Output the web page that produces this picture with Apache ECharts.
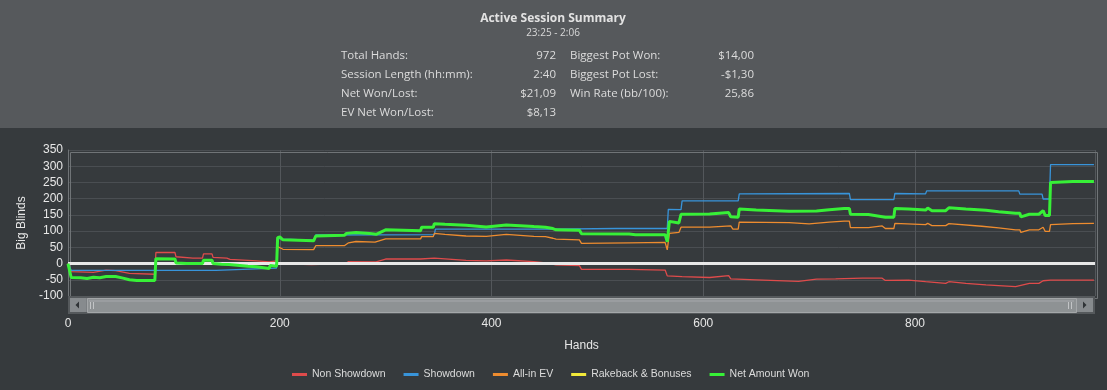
<!DOCTYPE html>
<html>
<head>
<meta charset="utf-8">
<script src="https://cdn.jsdelivr.net/npm/echarts@6/dist/echarts.min.js"></script>
<style>
html,body{margin:0;padding:0;background:#363a3d;}
#chart{width:1107px;height:390px;}
</style>
</head>
<body>
<div id="chart"></div>
<script>
// ---- data ----
const seriesNames = ['Non Showdown', 'Showdown', 'All-in EV', 'Rakeback & Bonuses', 'Net Amount Won'];
const xTicks = [0, 200, 400, 600, 800];
const yTicks = [-100, -50, 0, 50, 100, 150, 200, 250, 300, 350];

const nonShowdown = [[0,0],[3,-25],[24,-27],[36,-20],[45,-22],[58,-30],[82,-33],[83,34],[101,34],[102,21],[118,17],[127,17],[128,30],[136,30],[137,19],[150,17],[153,13],[170,10],[178,8],[179,6],[190,5],[191,8],[197,8],[198,0],[230,-3],[262,0],[265,6],[291,5],[300,14],[333,14],[334,18],[346,17],[376,10],[395,8],[414,11],[440,6],[451,2],[461,-4],[483,-6],[485,-18],[530,-18],[564,-20],[566,-38],[580,-40],[606,-43],[607,-37],[624,-37],[626,-47],[650,-50],[690,-55],[707,-48],[725,-47],[750,-45],[769,-45],[772,-52],[794,-51],[810,-56],[829,-61],[832,-56],[848,-61],[867,-66],[895,-71],[908,-61],[917,-61],[921,-53],[928,-51],[969,-51]];

const showdown = [[0,0],[3,-21],[140,-21],[141,-17],[190,-15],[197,-14],[198,78],[203,75],[232,72],[234,88],[346,89],[347,106],[458,106],[518,108],[566,108],[567,167],[579,166],[580,193],[633,193],[634,215],[738,216],[739,197],[780,197],[781,216],[810,215],[811,224],[898,224],[899,214],[920,214],[921,199],[927,199],[928,305],[969,305]];

const allInEV = [[0,0],[3,-43],[12,-44],[18,-46],[24,-42],[30,-44],[36,-40],[45,-40],[52,-45],[58,-50],[65,-52],[82,-52],[83,15],[101,14],[102,2],[112,0],[127,0],[128,10],[136,10],[137,0],[145,-2],[152,-3],[153,-6],[170,-8],[178,-10],[179,-14],[190,-15],[191,-6],[197,-8],[198,52],[203,44],[232,43],[234,55],[261,55],[265,64],[272,68],[290,66],[291,62],[300,76],[333,76],[334,83],[345,83],[346,93],[356,90],[376,85],[395,84],[414,90],[440,84],[451,83],[458,78],[461,75],[483,73],[485,62],[530,64],[564,65],[566,42],[568,93],[577,96],[579,112],[606,112],[607,116],[626,116],[628,106],[633,106],[634,128],[681,126],[700,122],[719,128],[733,131],[738,131],[739,111],[756,111],[769,116],[772,108],[780,108],[781,124],[810,120],[812,124],[816,117],[829,117],[832,123],[863,115],[879,110],[895,104],[899,104],[900,96],[908,104],[917,104],[921,112],[923,99],[927,99],[928,120],[949,123],[969,124]];

const rakeback = [[0,0],[969,0]];

const netWon = [[0,0],[3,-43],[12,-44],[18,-46],[24,-42],[30,-44],[36,-40],[45,-40],[52,-45],[58,-50],[65,-52],[82,-52],[83,15],[101,14],[102,2],[112,0],[127,0],[128,10],[136,10],[137,0],[145,-2],[152,-3],[153,-6],[170,-8],[178,-10],[179,-14],[190,-15],[191,-6],[197,-8],[198,80],[200,82],[203,73],[232,70],[234,85],[261,87],[263,93],[272,96],[285,93],[291,90],[300,104],[333,101],[334,112],[345,112],[346,123],[356,121],[376,118],[395,113],[414,119],[440,114],[451,112],[458,108],[461,104],[483,103],[485,92],[530,91],[536,89],[564,89],[566,67],[568,130],[577,125],[579,152],[606,153],[607,157],[624,157],[626,144],[633,143],[634,168],[650,165],[681,161],[707,162],[719,166],[733,170],[738,170],[739,152],[756,151],[772,143],[780,143],[781,170],[794,168],[810,165],[812,171],[816,163],[829,163],[832,172],[848,168],[867,164],[879,160],[895,155],[899,155],[900,144],[908,152],[917,152],[921,163],[923,148],[927,148],[928,250],[949,253],[969,253]];

const headerTitle = 'Active Session Summary';
const headerSub = '23:25 - 2:06';
const statLabelsL = ['Total Hands:', 'Session Length (hh:mm):', 'Net Won/Lost:', 'EV Net Won/Lost:'];
const statValuesL = ['972', '2:40', '$21,09', '$8,13'];
const statLabelsR = ['Biggest Pot Won:', 'Biggest Pot Lost:', 'Win Rate (bb/100):'];
const statValuesR = ['$14,00', '-$1,30', '25,86'];

// ---- chart ----
const colors = ['#df4b4b', '#3894da', '#ee8c2f', '#f2e93a', '#37f037'];
const seriesData = [nonShowdown, showdown, allInEV, rakeback, netWon];

const chart = echarts.init(document.getElementById('chart'));

const headerFont = '"Open Sans", "Noto Sans", sans-serif';
const axisFont = '"Liberation Sans", Arial, sans-serif';
const graphics = [];
graphics.push({type:'rect', left:0, top:0, shape:{width:1107, height:128}, style:{fill:'#56595c'}, z:0, silent:true});
graphics.push({type:'text', x:553, y:19, style:{text:headerTitle, fill:'#e2e2e2', font:'bold 12px ' + headerFont, textAlign:'center', textVerticalAlign:'middle'}, z:5});
graphics.push({type:'text', x:553, y:33, style:{text:headerSub, fill:'#d8d8d8', font:'10px ' + headerFont, textAlign:'center', textVerticalAlign:'middle'}, z:5});
const rowY = [56, 75, 94, 113];
const rowFont = '11.5px ' + headerFont;
statLabelsL.forEach((t, i) => {
  graphics.push({type:'text', x:341, y:rowY[i], style:{text:t, fill:'#dcdcdc', font:rowFont, textAlign:'left', textVerticalAlign:'middle'}, z:5});
  graphics.push({type:'text', x:556, y:rowY[i], style:{text:statValuesL[i], fill:'#dcdcdc', font:rowFont, textAlign:'right', textVerticalAlign:'middle'}, z:5});
});
statLabelsR.forEach((t, i) => {
  graphics.push({type:'text', x:570, y:rowY[i], style:{text:t, fill:'#dcdcdc', font:rowFont, textAlign:'left', textVerticalAlign:'middle'}, z:5});
  graphics.push({type:'text', x:754, y:rowY[i], style:{text:statValuesR[i], fill:'#dcdcdc', font:rowFont, textAlign:'right', textVerticalAlign:'middle'}, z:5});
});
// plot border
graphics.push({type:'rect', left:68, top:150, shape:{width:1027, height:146}, style:{fill:'none', stroke:'#707477', lineWidth:1}, z:1, silent:true});
// scrollbar decoration
graphics.push({type:'rect', left:68, top:296, shape:{width:1027, height:18}, style:{fill:'#55595c'}, z:6, silent:true});
graphics.push({type:'rect', left:70, top:298, shape:{width:1023, height:14}, style:{fill:'#7b7f82'}, z:6, silent:true});
graphics.push({type:'rect', left:70, top:298, shape:{width:16, height:14}, style:{fill:'#878b8e'}, z:7, silent:true});
graphics.push({type:'polygon', shape:{points:[[79,301.5],[79,308.5],[75.5,305]]}, style:{fill:'#2f3336'}, z:8, silent:true});
graphics.push({type:'rect', left:1077, top:298, shape:{width:16, height:14}, style:{fill:'#878b8e'}, z:7, silent:true});
graphics.push({type:'polygon', shape:{points:[[1083,301.5],[1083,308.5],[1086.5,305]]}, style:{fill:'#2f3336'}, z:8, silent:true});
graphics.push({type:'rect', left:87, top:298, shape:{width:989, height:14}, style:{fill:'#8e9294', stroke:'#a4a7a9', lineWidth:1}, z:7, silent:true});
graphics.push({type:'rect', left:89, top:300, shape:{width:985, height:2}, style:{fill:'#9a9da0'}, z:8, silent:true});
[[90],[93],[1068],[1071]].forEach(p => {
  graphics.push({type:'rect', left:p[0], top:302, shape:{width:1, height:7}, style:{fill:'#c2c4c6'}, z:9, silent:true});
});

const lineSeries = seriesNames.map((name, i) => ({
  name: name, type: 'line', data: seriesData[i], showSymbol: false, symbol: 'none',
  color: colors[i],
  lineStyle: {color: colors[i], width: i === 4 ? 3 : 1.3},
  z: i === 4 ? 10 : 2 + i, silent: true
}));
// zero reference line
lineSeries.push({
  name: 'zero', type: 'line', data: [], z: 8, silent: true,
  markLine: {silent: true, symbol: 'none', z: 8, label: {show: false}, animation: false,
    lineStyle: {color: '#e8e8e8', width: 3, type: 'solid'}, data: [{yAxis: 0}]}
});

const option = {
  backgroundColor: '#363a3d',
  animation: false,
  textStyle: {fontFamily: axisFont},
  grid: {left: 68, right: 12, top: 150, bottom: 94, containLabel: false},
  legend: {
    data: seriesNames,
    top: 369,
    left: 292,
    padding: 0,
    itemWidth: 15,
    itemHeight: 3,
    itemGap: 18,
    icon: 'rect',
    textStyle: {color: '#dcdcdc', fontSize: 10.5, fontFamily: axisFont}
  },
  xAxis: {
    type: 'value', min: 0, max: 970, interval: 200,
    name: 'Hands', nameLocation: 'middle', nameGap: 44,
    nameTextStyle: {color: '#e6e6e6', fontSize: 12, fontFamily: axisFont},
    axisLine: {show: false}, axisTick: {show: false},
    axisLabel: {color: '#e6e6e6', fontSize: 12, margin: 22, fontFamily: axisFont,
      formatter: v => (xTicks.indexOf(v) >= 0 ? String(v) : '')},
    splitLine: {show: true, lineStyle: {color: '#53575b', width: 1}}
  },
  yAxis: {
    type: 'value', min: -100, max: 350, interval: 50,
    name: 'Big Blinds', nameLocation: 'middle', nameGap: 40, nameRotate: 90,
    nameTextStyle: {color: '#e6e6e6', fontSize: 12, fontFamily: axisFont},
    axisLine: {show: true, lineStyle: {color: '#707477'}}, axisTick: {show: false},
    axisLabel: {color: '#e8e8e8', fontSize: 12, margin: 5, fontFamily: axisFont,
      formatter: v => (yTicks.indexOf(v) >= 0 ? String(v) : '')},
    splitLine: {show: true, lineStyle: {color: '#4a4e52', width: 1}}
  },
  graphic: graphics,
  series: lineSeries
};
chart.setOption(option);
</script>
</body>
</html>
